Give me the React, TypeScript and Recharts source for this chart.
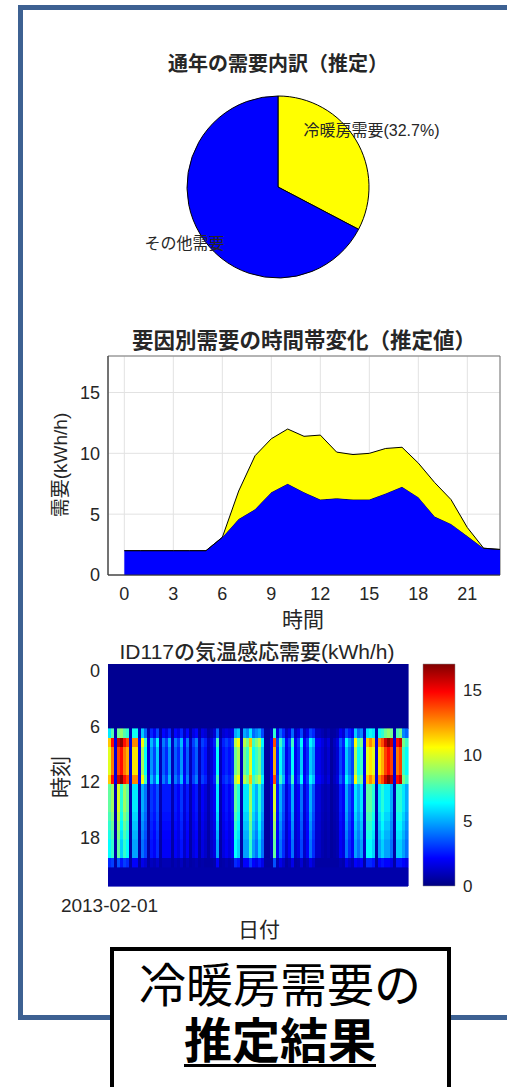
import React from 'react'
import {
  PieChart,
  Pie,
  Cell,
  AreaChart,
  Area,
  BarChart,
  Bar,
  XAxis,
  YAxis,
  CartesianGrid,
  ReferenceArea,
} from 'recharts'

const FONT = '"Liberation Sans", "Noto Sans CJK JP", sans-serif'
const INK = '#262626'
const BLUE = '#0000ff'
const YELLOW = '#ffff00'

// pie: annual breakdown
const PIE_NAMES = ['冷暖房需要', 'その他需要']
const PIE_VALUES = [32.7, 67.3]
const PIE_LABELS = ['冷暖房需要(32.7%)', 'その他需要']
const PIE_COLORS = [YELLOW, BLUE]

// area: hourly demand (kWh/h)
const HOURS = [0, 1, 2, 3, 4, 5, 6, 7, 8, 9, 10, 11, 12, 13, 14, 15, 16, 17, 18, 19, 20, 21, 22, 23]
const OTHER = [2.0, 2.0, 2.0, 2.0, 2.0, 2.0, 3.1, 4.6, 5.4, 6.8, 7.5, 6.8, 6.2, 6.3, 6.2, 6.2, 6.7, 7.25, 6.4, 4.8, 4.2, 3.2, 2.2, 2.1]
const TOTAL = [2.0, 2.0, 2.0, 2.0, 2.0, 2.0, 3.1, 6.9, 9.8, 11.2, 12.0, 11.4, 11.5, 10.1, 9.9, 10.0, 10.4, 10.5, 9.2, 7.6, 6.2, 3.9, 2.2, 2.1]
const AREA_X_TICKS = [0, 3, 6, 9, 12, 15, 18, 21]
const AREA_Y_TICKS = [0, 5, 10, 15]

// heatmap: per-day level in the morning block (7-12h) and afternoon block (13-21h)
const AM_LEVEL = [
  11, 14, 1.5, 15, 16, 14, 13, 1.5, 12, 12, 2, 10, 7, 1.5, 5, 3.5, 6, 1, 4, 3, 5, 1, 4, 3, 5, 2, 4, 1, 3, 4, 1, 3, 2.5, 1,
  1.5, 2.5, 7, 1, 2.5, 3, 2.5, 3, 9, 10, 1, 9, 8, 11, 7, 8, 9, 6, 0.5, 0.5, 2, 13, 3, 7, 5, 2, 3, 7, 2, 3, 6, 2,
  3, 6, 5, 2, 2, 1.5, 1, 1.5, 0.5, 1, 1.5, 3.5, 2.5, 6, 4.5, 3.5, 10, 7, 8, 2, 11, 12, 11, 1.5, 12, 13, 15, 16, 15, 1.5, 14, 15, 8, 7,
]
const PM_LEVEL = [
  8, 9, 0.8, 10, 7, 9, 8, 0.8, 6, 6, 0.8, 5, 4, 0.8, 3, 2.5, 3.5, 0.8, 2.5, 2.5, 2.5, 0.8, 2.5, 2, 3, 1.5, 2.5, 0.8, 2, 2.5, 0.8, 2, 1.5, 0.8,
  1.5, 2, 6, 0.8, 2, 2.5, 2, 2.5, 8, 7, 0.8, 6, 6, 9, 6, 5, 7, 5, 0.5, 0.5, 1.5, 10, 2.5, 5, 3.5, 1.5, 2.5, 5, 1.5, 2, 4, 1.5,
  2.5, 5, 3.5, 1.5, 1.5, 1, 0.8, 1, 0.5, 0.8, 1, 2.5, 2, 5, 3.5, 2.5, 6, 5, 6, 1.5, 8, 8, 7, 0.8, 6, 7, 6, 6, 5, 0.8, 7, 7, 6, 5,
]
// which block each hour row follows, its weight, and the floor value
const HOUR_BLOCK = ['-', '-', '-', '-', '-', '-', '-', 'am', 'am', 'am', 'am', 'am', 'am', 'pm', 'pm', 'pm', 'pm', 'pm', 'pm', 'pm', 'pm', 'pm', '-', '-']
const HOUR_WEIGHT = [0, 0, 0, 0, 0, 0, 0, 0.55, 1.05, 0.92, 0.92, 0.92, 1.05, 1, 1, 1, 0.95, 0.9, 0.85, 0.8, 0.8, 0.35, 0, 0]
const HOUR_FLOOR = [0.3, 0.3, 0.3, 0.3, 0.3, 0.3, 0.3, 0.5, 0.5, 0.5, 0.5, 0.5, 0.5, 0.5, 0.5, 0.5, 0.5, 0.5, 0.5, 0.5, 0.5, 0.6, 0.7, 0.7]
const HEAT_Y_TICKS = [0, 6, 12, 18]
const START_DATE = '2013-02-01'
const CMAX = 17
const CBAR_TICKS = [0, 5, 10, 15]

const AREA_DATA = HOURS.map((h, i) => ({ hour: h, other: OTHER[i], hvac: +(TOTAL[i] - OTHER[i]).toFixed(2) }))
const PIE_DATA = PIE_NAMES.map((n, i) => ({ name: n, value: PIE_VALUES[i] }))

const HEAT_DATA = AM_LEVEL.map((_, i) => {
  const row: Record<string, number> = { day: i }
  HOURS.forEach((h) => { row['h' + h] = 1 })
  return row
})

function cellValue(day: number, h: number) {
  const b = HOUR_BLOCK[h]
  const lvl = b === 'am' ? AM_LEVEL[day] : b === 'pm' ? PM_LEVEL[day] : 0
  return Math.max(HOUR_FLOOR[h], lvl * HOUR_WEIGHT[h])
}

function jet(v: number) {
  const t = Math.min(1, Math.max(0, v / CMAX))
  const c = (x: number) => Math.round(255 * Math.min(1, Math.max(0, x)))
  const r = c(1.5 - Math.abs(4 * t - 3))
  const g = c(1.5 - Math.abs(4 * t - 2))
  const b = c(1.5 - Math.abs(4 * t - 1))
  return `rgb(${r},${g},${b})`
}

const JET_STOPS = [
  { o: 0, c: '#800000' },
  { o: 0.125, c: '#ff0000' },
  { o: 0.375, c: '#ffff00' },
  { o: 0.625, c: '#00ffff' },
  { o: 0.875, c: '#0000ff' },
  { o: 1, c: '#000080' },
]

function Txt({ x, y, size, weight = 400, rotate = 0, children, style }: any) {
  return (
    <div
      style={{
        position: 'absolute',
        left: x,
        top: y,
        transform: `translate(-50%, -50%) rotate(${rotate}deg)`,
        fontSize: size,
        fontWeight: weight,
        fontFamily: FONT,
        color: INK,
        whiteSpace: 'nowrap',
        lineHeight: 1,
        ...style,
      }}
    >
      {children}
    </div>
  )
}

const RAD = Math.PI / 180
function pieLabel(p: any) {
  const r = p.outerRadius * 1.2
  const x = p.cx + r * Math.cos(-p.midAngle * RAD)
  const y = p.cy + r * Math.sin(-p.midAngle * RAD)
  return (
    <text x={x} y={y} textAnchor="middle" dominantBaseline="central" fontSize={16} fontFamily={FONT} fill={INK}>
      {PIE_LABELS[p.index]}
    </text>
  )
}

const tickStyle = { fill: INK, fontSize: 18, fontFamily: FONT }

export default function App() {
  return (
    <div style={{ position: 'absolute', left: 0, top: 0, width: 507, height: 1087, overflow: 'hidden', background: '#fff' }}>
      <div
        style={{
          position: 'absolute', left: 18, top: 5, width: 520, height: 1015,
          border: '5px solid #3d6192', boxSizing: 'border-box',
        }}
      />

      {/* pie */}
      <div style={{ position: 'absolute', left: 0, top: 0 }}>
        <PieChart width={507} height={320} margin={{ top: 0, right: 0, bottom: 0, left: 0 }}>
          <Pie
            data={PIE_DATA}
            dataKey="value"
            cx={278}
            cy={187}
            outerRadius={91}
            startAngle={90}
            endAngle={-270}
            stroke="#000"
            strokeWidth={1}
            labelLine={false}
            label={pieLabel}
            isAnimationActive={false}
          >
            {PIE_DATA.map((d, i) => <Cell key={d.name} fill={PIE_COLORS[i]} />)}
          </Pie>
        </PieChart>
      </div>
      <Txt x={278} y={64} size={20} weight={700}>通年の需要内訳（推定）</Txt>

      {/* hourly stacked area */}
      <div style={{ position: 'absolute', left: 0, top: 320 }}>
        <AreaChart width={507} height={290} data={AREA_DATA} margin={{ top: 36, right: 7, bottom: 5, left: 68 }}>
          <CartesianGrid stroke="#e2e2e2" />
          <XAxis
            type="number"
            dataKey="hour"
            domain={[-1, 23]}
            ticks={AREA_X_TICKS}
            height={30}
            tickLine={false}
            tickMargin={6}
            stroke="#333"
            tick={tickStyle}
            allowDataOverflow
          />
          <YAxis
            domain={[0, 18]}
            ticks={AREA_Y_TICKS}
            width={40}
            tickLine={false}
            stroke="#333"
            tick={tickStyle}
            allowDataOverflow
          />
          <ReferenceArea x1={-1} x2={23} y1={0} y2={18} fill="none" stroke="#777" strokeWidth={1} />
          <Area type="linear" dataKey="other" stackId="1" fill={BLUE} fillOpacity={1} stroke="#000" strokeWidth={0.8} isAnimationActive={false} />
          <Area type="linear" dataKey="hvac" stackId="1" fill={YELLOW} fillOpacity={1} stroke="#000" strokeWidth={1} isAnimationActive={false} />
        </AreaChart>
      </div>
      <Txt x={304} y={342} size={21.5} weight={700}>要因別需要の時間帯変化（推定値）</Txt>
      <Txt x={60} y={465} size={19} rotate={-90}>需要(kWh/h)</Txt>
      <Txt x={303} y={619} size={21}>時間</Txt>

      {/* heatmap */}
      <div style={{ position: 'absolute', left: 0, top: 640 }}>
        <BarChart width={420} height={290} data={HEAT_DATA} margin={{ top: 24, right: 12, bottom: 19, left: 68 }} barCategoryGap={0} barGap={0}>
          <XAxis
            dataKey="day"
            height={25}
            interval={0}
            tickLine={false}
            axisLine={false}
            tickMargin={7}
            tick={{ ...tickStyle, fontSize: 19 }}
            tickFormatter={(v: any) => (v === 0 ? START_DATE : '')}
          />
          <YAxis yAxisId="rows" type="number" domain={[0, 24]} reversed hide />
          <YAxis
            yAxisId="lbl"
            type="number"
            domain={[-0.75, 23.25]}
            reversed
            ticks={HEAT_Y_TICKS}
            width={40}
            tickLine={false}
            axisLine={false}
            tick={tickStyle}
            allowDataOverflow
          />
          {HOURS.map((h) => (
            <Bar key={h} yAxisId="rows" dataKey={'h' + h} stackId="s" isAnimationActive={false}>
              {HEAT_DATA.map((_, d) => {
                const col = jet(cellValue(d, h))
                return <Cell key={d} fill={col} stroke={col} strokeWidth={0.6} shapeRendering="crispEdges" />
              })}
            </Bar>
          ))}
        </BarChart>
      </div>

      {/* colour bar */}
      <div style={{ position: 'absolute', left: 400, top: 640 }}>
        <BarChart width={107} height={290} data={[{ name: 'c', v: CMAX }]} margin={{ top: 24, right: 12, bottom: 44, left: 23 }} barCategoryGap={0}>
          <defs>
            <linearGradient id="jetGrad" x1="0" y1="0" x2="0" y2="1">
              {JET_STOPS.map((s) => <stop key={s.o} offset={s.o} stopColor={s.c} />)}
            </linearGradient>
          </defs>
          <XAxis dataKey="name" hide />
          <YAxis
            orientation="right"
            domain={[0, CMAX]}
            ticks={CBAR_TICKS}
            width={40}
            tickLine={false}
            axisLine={false}
            tick={{ ...tickStyle, fontSize: 17 }}
          />
          <Bar dataKey="v" fill="url(#jetGrad)" stroke="#888" strokeWidth={0.5} isAnimationActive={false} />
        </BarChart>
      </div>
      <Txt x={257} y={651} size={21} weight={500}>ID117の気温感応需要(kWh/h)</Txt>
      <Txt x={60} y={777} size={21} rotate={-90}>時刻</Txt>
      <Txt x={259} y={929} size={21}>日付</Txt>

      {/* caption box */}
      <div
        style={{
          position: 'absolute', left: 110, top: 947, width: 341, height: 160,
          border: '4px solid #000', boxSizing: 'border-box', background: '#fff',
        }}
      />
      <Txt x={280} y={985} size={47} style={{ color: '#000' }}>冷暖房需要の</Txt>
      <Txt
        x={280}
        y={1042}
        size={48}
        weight={700}
        style={{ color: '#000', textDecoration: 'underline', textDecorationThickness: 3, textUnderlineOffset: 6 }}
      >
        推定結果
      </Txt>
    </div>
  )
}
